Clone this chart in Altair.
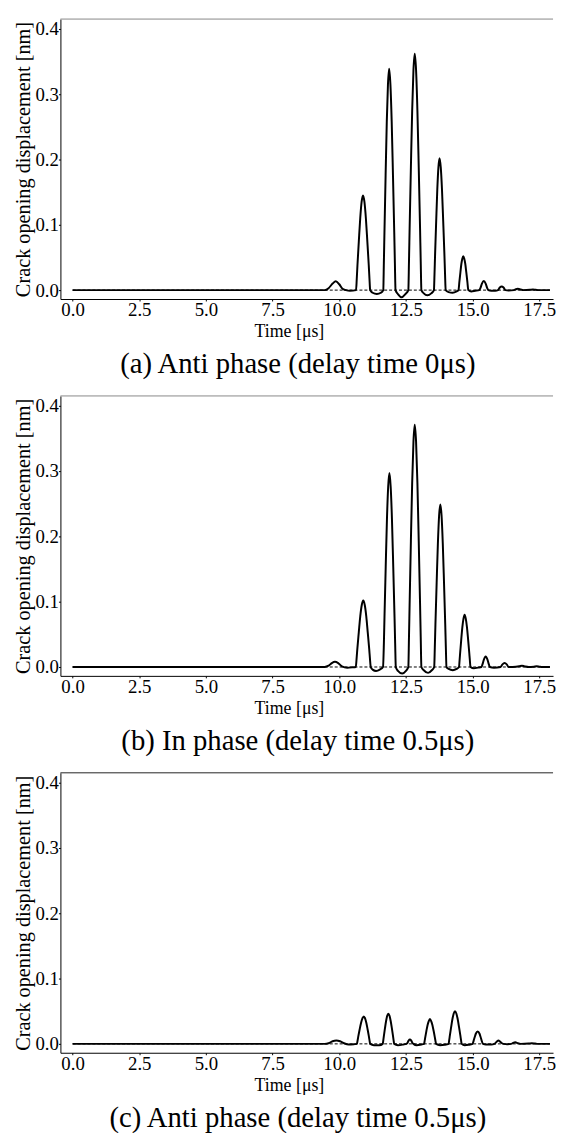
import altair as alt
import pandas as pd

# ---------------- data ----------------
x_ticks = [0.0, 2.5, 5.0, 7.5, 10.0, 12.5, 15.0, 17.5]
y_ticks = [0.0, 0.1, 0.2, 0.3, 0.4]

titles = [
    "(a) Anti phase (delay time 0\u03bcs)",
    "(b) In phase (delay time 0.5\u03bcs)",
    "(c) Anti phase (delay time 0.5\u03bcs)",
]

t_a = [0, 9.45, 9.6, 9.75, 9.87, 10.0, 10.12, 10.25, 10.4, 10.63,
       10.656, 10.682, 10.734, 10.786, 10.838, 10.89, 10.944, 10.998, 11.052, 11.106, 11.133, 11.16,
       11.25, 11.41, 11.56, 11.65,
       11.672, 11.694, 11.738, 11.782, 11.826, 11.87, 11.918, 11.966, 12.014, 12.062, 12.086, 12.11,
       12.2, 12.34, 12.48, 12.59,
       12.614, 12.638, 12.686, 12.734, 12.782, 12.83, 12.88, 12.93, 12.98, 13.03, 13.055, 13.08,
       13.17, 13.3, 13.45, 13.55,
       13.571, 13.592, 13.634, 13.676, 13.718, 13.76, 13.806, 13.852, 13.898, 13.944, 13.967, 13.99,
       14.1, 14.25, 14.4, 14.47,
       14.506, 14.542, 14.578, 14.614, 14.65, 14.688, 14.726, 14.764, 14.802, 14.84,
       14.95, 15.1, 15.25,
       15.3, 15.35, 15.42, 15.49, 15.54, 15.59,
       15.7, 15.85, 15.95,
       16.02, 16.09, 16.16, 16.23,
       16.35, 16.55, 16.6, 16.7, 16.8, 16.9,
       17.15, 17.26, 17.37, 17.5, 17.9]
v_a = [0, 0, 0.003, 0.010, 0.0137, 0.009, 0.002, 0.0, -0.001, 0,
       0.017, 0.038, 0.075, 0.110, 0.135, 0.145, 0.135, 0.110, 0.075, 0.038, 0.017, 0,
       -0.004, -0.006, -0.004, 0,
       0.041, 0.088, 0.176, 0.258, 0.315, 0.339, 0.315, 0.258, 0.176, 0.088, 0.041, 0,
       -0.006, -0.011, -0.006, 0,
       0.043, 0.094, 0.188, 0.275, 0.337, 0.362, 0.337, 0.275, 0.188, 0.094, 0.043, 0,
       -0.005, -0.008, -0.005, 0,
       0.024, 0.053, 0.105, 0.154, 0.188, 0.202, 0.188, 0.154, 0.105, 0.053, 0.024, 0,
       -0.003, -0.004, -0.002, 0,
       0.0135, 0.027, 0.040, 0.048, 0.052, 0.048, 0.040, 0.027, 0.0135, 0,
       -0.002, -0.001, 0,
       0.004, 0.010, 0.014, 0.010, 0.004, 0,
       -0.001, -0.001, 0,
       0.004, 0.0056, 0.004, 0,
       -0.0005, 0, 0.001, 0.002, 0.001, 0,
       0.0005, 0.001, 0.0005, 0, 0]

t_b = [0, 9.45, 9.6, 9.72, 9.84, 9.96, 10.1, 10.3, 10.5, 10.62,
       10.648, 10.676, 10.732, 10.788, 10.844, 10.9, 10.956, 11.012, 11.068, 11.124, 11.152, 11.18,
       11.25, 11.38, 11.52, 11.64,
       11.673, 11.696, 11.742, 11.788, 11.834, 11.88, 11.928, 11.976, 12.024, 12.072, 12.096, 12.12,
       12.2, 12.36, 12.5, 12.59,
       12.614, 12.638, 12.686, 12.734, 12.782, 12.83, 12.88, 12.93, 12.98, 13.03, 13.055, 13.08,
       13.17, 13.33, 13.47, 13.56,
       13.583, 13.606, 13.652, 13.698, 13.744, 13.79, 13.836, 13.882, 13.928, 13.974, 13.997, 14.02,
       14.1, 14.26, 14.4, 14.49,
       14.511, 14.532, 14.574, 14.616, 14.658, 14.7, 14.744, 14.788, 14.832, 14.876, 14.898, 14.92,
       15.05, 15.2, 15.33,
       15.37, 15.42, 15.49, 15.56, 15.61, 15.65,
       15.8, 16.05,
       16.12, 16.2, 16.28, 16.35,
       16.5, 16.75, 16.85, 16.95, 17.1,
       17.3, 17.4, 17.5, 17.6, 17.9]
v_b = [0, 0, 0.002, 0.006, 0.008, 0.006, 0.001, -0.001, -0.0005, 0,
       0.012, 0.027, 0.053, 0.078, 0.095, 0.102, 0.095, 0.078, 0.053, 0.027, 0.012, 0,
       -0.004, -0.006, -0.004, 0,
       0.036, 0.077, 0.154, 0.226, 0.276, 0.297, 0.276, 0.226, 0.154, 0.077, 0.036, 0,
       -0.006, -0.010, -0.006, 0,
       0.045, 0.096, 0.193, 0.282, 0.345, 0.371, 0.345, 0.282, 0.193, 0.096, 0.045, 0,
       -0.005, -0.009, -0.005, 0,
       0.030, 0.065, 0.129, 0.189, 0.232, 0.249, 0.232, 0.189, 0.129, 0.065, 0.030, 0,
       -0.003, -0.005, -0.003, 0,
       0.010, 0.021, 0.042, 0.061, 0.074, 0.080, 0.074, 0.061, 0.042, 0.021, 0.010, 0,
       -0.002, -0.001, 0,
       0.004, 0.011, 0.016, 0.011, 0.004, 0,
       -0.001, 0,
       0.004, 0.006, 0.004, 0,
       0, 0.001, 0.002, 0.001, 0,
       0.0005, 0.001, 0.0005, 0, 0]

t_c = [0, 9.45, 9.6, 9.75, 9.89, 10.03, 10.18, 10.35, 10.55, 10.66,
       10.686, 10.712, 10.764, 10.816, 10.868, 10.92, 10.968, 11.016, 11.064, 11.112, 11.136, 11.16,
       11.3, 11.5, 11.63,
       11.651, 11.672, 11.714, 11.756, 11.798, 11.84, 11.884, 11.928, 11.972, 12.016, 12.038, 12.06,
       12.2, 12.4, 12.52,
       12.55, 12.6, 12.65, 12.7, 12.75, 12.78,
       12.9, 13.08, 13.18,
       13.202, 13.224, 13.268, 13.312, 13.356, 13.4, 13.446, 13.492, 13.538, 13.584, 13.607, 13.63,
       13.78, 13.95, 14.1,
       14.124, 14.148, 14.196, 14.244, 14.292, 14.34, 14.39, 14.44, 14.49, 14.54, 14.565, 14.59,
       14.7, 14.85, 15.0,
       15.04, 15.08, 15.12, 15.19, 15.26, 15.3, 15.34, 15.39,
       15.5, 15.7, 15.82,
       15.85, 15.91, 15.97, 16.03, 16.1, 16.15,
       16.3, 16.45,
       16.5, 16.6, 16.7, 16.8,
       17.1, 17.22, 17.34, 17.45, 17.9]
v_c = [0, 0, 0.001, 0.004, 0.005, 0.004, 0.001, -0.001, -0.0005, 0,
       0.005, 0.011, 0.022, 0.032, 0.039, 0.042, 0.039, 0.032, 0.022, 0.011, 0.005, 0,
       -0.002, -0.002, 0,
       0.0055, 0.012, 0.024, 0.035, 0.043, 0.046, 0.043, 0.035, 0.024, 0.012, 0.0055, 0,
       -0.002, -0.001, 0,
       0.001, 0.005, 0.0066, 0.005, 0.001, 0,
       -0.002, -0.001, 0,
       0.0046, 0.0099, 0.020, 0.029, 0.035, 0.038, 0.035, 0.029, 0.020, 0.0099, 0.0046, 0,
       -0.002, -0.0015, 0,
       0.006, 0.013, 0.026, 0.038, 0.0465, 0.050, 0.0465, 0.038, 0.026, 0.013, 0.006, 0,
       -0.002, -0.0015, 0,
       0.005, 0.0105, 0.0155, 0.019, 0.0155, 0.0105, 0.005, 0,
       -0.001, -0.001, 0,
       0.001, 0.0035, 0.005, 0.0035, 0.001, 0,
       -0.0005, 0,
       0.001, 0.0025, 0.001, 0,
       0.0005, 0.001, 0.0005, 0, 0]

zero_t = [0.0, 17.9]
zero_v = [0.0, 0.0]

# ---------------- layout ----------------
FONT = "Liberation Serif"
W = 498
H = 283
X_DOM = [-0.456, 18.016]
Y_DOM = [-0.0136, 0.415]


def panel(t, v, title, top_color):
    df = pd.DataFrame({"t": t, "v": v})
    zdf = pd.DataFrame({"t": zero_t, "v": zero_v})
    xs = alt.Scale(domain=X_DOM, nice=False, zero=False)
    ys = alt.Scale(domain=Y_DOM, nice=False, zero=False)
    xax = alt.Axis(values=x_ticks, format=".1f", title="Time [\u03bcs]", grid=False,
                   labelFont=FONT, labelFontSize=19, labelColor="black", labelPadding=0,
                   tickSize=2, tickColor="black", domainColor="black", domainWidth=1,
                   titleFont=FONT, titleFontSize=18, titleFontWeight="normal",
                   titleColor="black", titlePadding=3, titleX=231,
                   labelFlush=False, labelOverlap=False)
    yax = alt.Axis(values=y_ticks, format=".1f", title="Crack opening displacement [nm]",
                   grid=False, labelFont=FONT, labelFontSize=19, labelColor="black",
                   labelPadding=0, tickSize=2, tickColor="black", domainColor="black",
                   domainWidth=1, titleFont=FONT, titleFontSize=20.5,
                   titleFontWeight="normal", titleColor="black", titlePadding=2,
                   labelFlush=False, labelOverlap=False)
    enc = dict(x=alt.X("t:Q", scale=xs, axis=xax), y=alt.Y("v:Q", scale=ys, axis=yax))
    zero = alt.Chart(zdf).mark_line(color="black", strokeWidth=1, strokeDash=[3, 2]).encode(**enc)
    line = alt.Chart(df).mark_line(color="black", strokeWidth=2, interpolate="monotone").encode(**enc)
    top = alt.Chart(pd.DataFrame({"a": [0]})).mark_rule(color=top_color, strokeWidth=1).encode(
        x=alt.value(0), x2=alt.value(W), y=alt.value(0))
    return alt.layer(zero, line, top).properties(
        width=W, height=H,
        title=alt.TitleParams(title, orient="bottom", anchor="middle", frame="group",
                              font=FONT, fontSize=29, fontWeight="normal", color="black",
                              dx=-9, offset=10))


chart = alt.vconcat(
    panel(t_a, v_a, titles[0], "#888888"),
    panel(t_b, v_b, titles[1], "#888888"),
    panel(t_c, v_c, titles[2], "#222222"),
    spacing=16,
).properties(
    padding={"left": 5, "top": 4, "right": 0, "bottom": 0},
    background="white",
).configure_view(stroke=None)

chart.save("out.html", embed_options={"renderer": "svg", "actions": False})
